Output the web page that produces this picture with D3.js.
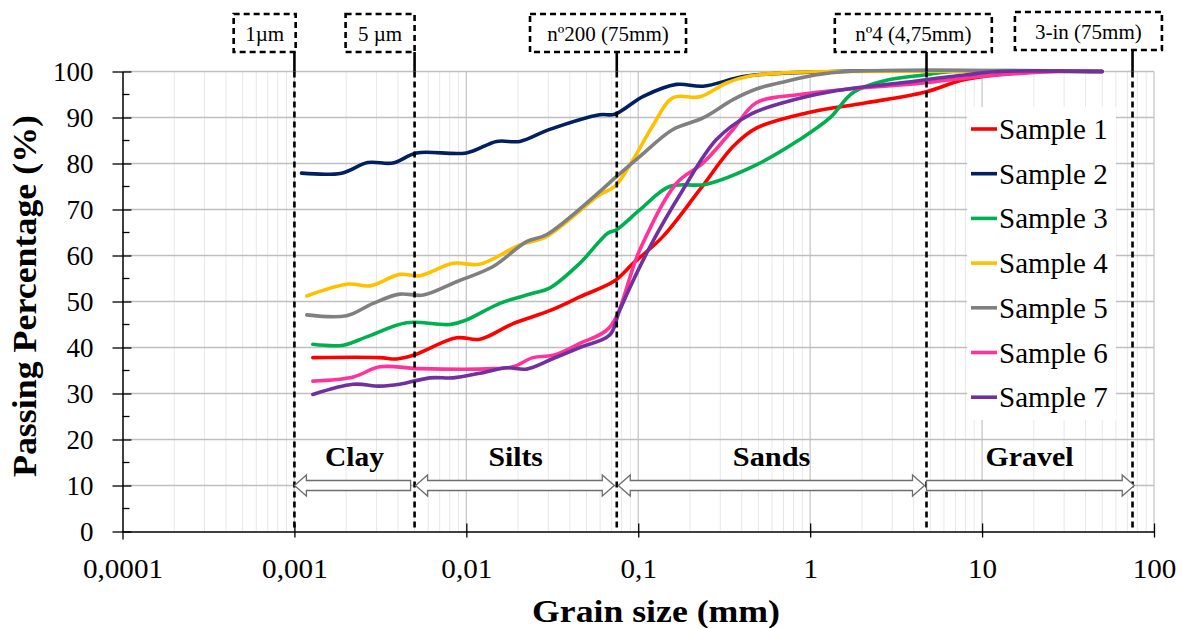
<!DOCTYPE html>
<html>
<head>
<meta charset="utf-8">
<script src="https://cdn.jsdelivr.net/npm/d3@7"></script>
<style>
  html, body { margin: 0; padding: 0; background: #ffffff; }
  svg { display: block; }
  svg text { font-family: "Liberation Serif", "Times New Roman", serif !important; fill: #000; }
</style>
</head>
<body>
<svg id="chart" width="1182" height="628"></svg>
<script>
// ---- data: grain size (mm) vs passing percentage (%) ----
const seriesNames = ["Sample 1", "Sample 2", "Sample 3", "Sample 4", "Sample 5", "Sample 6", "Sample 7"];
const seriesColors = ["#ff0000", "#002060", "#00b050", "#ffc000", "#808080", "#ff3399", "#7030a0"];

const sample1 = [[0.00128,37.8],[0.00314,37.8],[0.00393,37.5],[0.00491,38.3],[0.00877,42.1],[0.01197,41.8],
  [0.0187,45.2],[0.0305,48.0],[0.0457,51.0],[0.0729,54.5],[0.0933,58.3],[0.139,64.1],[0.228,74.3],[0.356,83.7],
  [0.486,87.7],[0.951,91.0],[2.12,93.2],[4.63,95.5],[8.09,98.3],[22.5,100],[50,100]];
const sample2 = [[0.0011,77.9],[0.00188,77.9],[0.00267,80.2],[0.00374,80.1],[0.00513,82.3],[0.01002,82.3],
  [0.015,84.8],[0.0205,84.8],[0.03,87.3],[0.0597,90.6],[0.0729,90.7],[0.107,94.6],[0.167,97.2],[0.238,96.8],
  [0.426,99.0],[1.36,100],[50,100]];
const sample3 = [[0.00128,40.7],[0.00192,40.5],[0.00263,42.3],[0.00449,45.4],[0.00802,45.0],[0.01002,46.0],
  [0.01567,49.6],[0.0244,51.8],[0.0305,52.9],[0.0457,58.3],[0.0667,64.9],[0.0746,65.6],[0.102,69.9],[0.152,75.0],
  [0.249,75.5],[0.486,79.7],[0.869,85.2],[1.30,89.9],[1.77,95.4],[2.65,97.9],[4.74,99.3],[6.73,100],[50,100]];
const sample4 = [[0.00118,51.2],[0.00206,53.8],[0.00275,53.4],[0.0041,55.9],[0.00537,55.6],[0.00838,58.3],
  [0.01197,58.1],[0.0205,62.3],[0.0292,64.1],[0.0597,73.2],[0.0729,75.0],[0.0933,80.8],[0.121,88.1],[0.159,94.3],
  [0.228,94.5],[0.326,97.5],[0.445,99.0],[0.695,99.7],[1.36,100],[50,100]];
const sample5 = [[0.00118,47.1],[0.00201,46.9],[0.00287,49.6],[0.0041,51.6],[0.00561,51.4],[0.00877,54.3],
  [0.01432,57.6],[0.0224,63.0],[0.0292,64.5],[0.0597,73.9],[0.0729,76.8],[0.102,81.5],[0.159,87.4],[0.238,89.9],
  [0.356,93.9],[0.486,96.2],[0.728,97.9],[1.087,99.3],[1.61,100],[50,100]];
const sample6 = [[0.00128,32.7],[0.0022,33.6],[0.00314,35.8],[0.00537,35.4],[0.01432,35.4],[0.0187,35.8],
  [0.0244,37.8],[0.032,38.3],[0.0457,40.9],[0.0682,44.4],[0.102,61.2],[0.167,75.7],[0.238,80.1],[0.356,87.4],
  [0.486,93.2],[0.869,95.0],[1.70,96.2],[4.53,97.5],[10.1,99.0],[28.2,100],[50,100]];
const sample7 = [[0.00128,29.8],[0.0022,32.0],[0.00314,31.6],[0.0041,32.0],[0.00614,33.4],[0.00838,33.4],
  [0.01197,34.4],[0.01714,35.6],[0.0224,35.3],[0.032,37.6],[0.0457,40.0],[0.0682,42.7],[0.078,48.1],[0.117,61.9],
  [0.182,74.3],[0.285,85.2],[0.445,90.6],[0.695,93.2],[1.36,95.7],[3.31,97.5],[8.09,99.3],[12.5,100],[50,100]];
const samples = [sample1, sample2, sample3, sample4, sample5, sample6, sample7];

const xTickValues = [0.0001, 0.001, 0.01, 0.1, 1, 10, 100];
const xTickLabels = ["0,0001", "0,001", "0,01", "0,1", "1", "10", "100"];
const yTickValues = [0, 10, 20, 30, 40, 50, 60, 70, 80, 90, 100];

// size limits (mm) marked by dashed verticals, with their captions
const limitSizes = [0.001, 0.005, 0.075, 4.75, 75];
const limitLabels = ["1µm", "5 µm", "nº200 (75mm)", "nº4 (4,75mm)", "3-in (75mm)"];

// soil classes between consecutive limits
const soilClasses = ["Clay", "Silts", "Sands", "Gravel"];

// ---- layout ----
const FONT = '"Liberation Serif","Times New Roman",serif';
const svg = d3.select("#chart");
const plot = { left: 122.5, right: 1154, top: 71.5, bottom: 531.5 };

const x = d3.scaleLog().domain([0.0001, 100]).range([plot.left, plot.right]);
const y = d3.scaleLinear().domain([0, 100]).range([plot.bottom, plot.top]);

// gridlines
const grid = svg.append("g");
const minorX = [];
for (let k = -4; k <= 1; k++) for (let m = 2; m <= 9; m++) minorX.push(m * Math.pow(10, k));
grid.selectAll(".minx").data(minorX).join("line")
  .attr("x1", d => x(d)).attr("x2", d => x(d))
  .attr("y1", plot.top).attr("y2", plot.bottom)
  .attr("stroke", "#e8e8e8").attr("stroke-width", 1);
grid.selectAll(".majx").data(xTickValues.slice(1)).join("line")
  .attr("x1", d => x(d)).attr("x2", d => x(d))
  .attr("y1", plot.top).attr("y2", plot.bottom)
  .attr("stroke", "#c9c9c9").attr("stroke-width", 1.3);
grid.selectAll(".majy").data(yTickValues.slice(1)).join("line")
  .attr("x1", plot.left).attr("x2", plot.right)
  .attr("y1", d => y(d)).attr("y2", d => y(d))
  .attr("stroke", "#bfbfbf").attr("stroke-width", 1.4);

// legend background hides the grid behind it
const legend = { left: 967, right: 1116, top: 107, bottom: 420, rowY: 129, rowStep: 44.7 };
svg.append("rect")
  .attr("x", legend.left).attr("y", legend.top)
  .attr("width", legend.right - legend.left).attr("height", legend.bottom - legend.top)
  .attr("fill", "#ffffff");

// axes
const xAxis = d3.axisBottom(x).tickValues(xTickValues).tickFormat((d, i) => xTickLabels[i])
  .tickSizeInner(0).tickSizeOuter(0).tickPadding(0);
const gx = svg.append("g").attr("transform", `translate(0,${plot.bottom})`).call(xAxis)
  .attr("font-family", FONT);
gx.select(".domain").attr("stroke", "#000").attr("stroke-width", 1.5);
gx.selectAll(".tick text").attr("font-size", 27).attr("y", 46).attr("dy", 0)
  .attr("font-family", FONT)
  .each(function () {
    // the category labels sit slightly wider than the font's natural advance
    const w = this.getComputedTextLength();
    d3.select(this).attr("textLength", w * 1.08).attr("lengthAdjust", "spacingAndGlyphs");
  });
gx.selectAll(".tick").filter(d => d > 0.0001).append("line")
  .attr("y1", -8).attr("y2", 6).attr("stroke", "#000").attr("stroke-width", 1.3);
gx.selectAll(".tick").filter(d => d === 0.0001).append("line")
  .attr("y1", 0).attr("y2", 8).attr("stroke", "#000").attr("stroke-width", 1.3);

const yAxis = d3.axisLeft(y).tickValues(yTickValues).tickFormat(d3.format("d"))
  .tickSizeInner(0).tickSizeOuter(0).tickPadding(0);
const gy = svg.append("g").attr("transform", `translate(${plot.left},0)`).call(yAxis)
  .attr("font-family", FONT);
gy.select(".domain").attr("stroke", "#000").attr("stroke-width", 1.5);
gy.selectAll(".tick text").attr("font-size", 27).attr("x", -29).attr("dy", "0.34em")
  .attr("font-family", FONT);
gy.selectAll(".tick").append("line")
  .attr("x1", -10).attr("x2", 9).attr("stroke", "#000").attr("stroke-width", 1.3);
gy.selectAll(".minor").data(d3.range(5, 100, 10)).join("line")
  .attr("x1", 0).attr("x2", 7).attr("y1", d => y(d)).attr("y2", d => y(d))
  .attr("stroke", "#000").attr("stroke-width", 1.3);

// axis titles
svg.append("text")
  .attr("x", 656).attr("y", 622).attr("text-anchor", "middle")
  .attr("font-family", FONT).attr("font-size", 31).attr("font-weight", "bold")
  .attr("textLength", 248).attr("lengthAdjust", "spacingAndGlyphs")
  .text("Grain size (mm)");
svg.append("text")
  .attr("transform", "translate(36,296) rotate(-90)").attr("text-anchor", "middle")
  .attr("font-family", FONT).attr("font-size", 34).attr("font-weight", "bold")
  .attr("textLength", 362).attr("lengthAdjust", "spacingAndGlyphs")
  .text("Passing Percentage (%)");

// grading curves
const line = d3.line().x(d => x(d[0])).y(d => y(d[1])).curve(d3.curveCatmullRom.alpha(0.5));
svg.append("g").selectAll("path").data(samples).join("path")
  .attr("d", line)
  .attr("fill", "none")
  .attr("stroke", (d, i) => seriesColors[i])
  .attr("stroke-width", 3.6)
  .attr("stroke-linejoin", "round").attr("stroke-linecap", "round");

// dashed limit lines, solid connectors and captions in dashed boxes
const boxSpec = [
  { w: 62, f: 0.98, top: 14, h: 38, fs: 21 },
  { w: 69, f: 1.0, top: 14, h: 38, fs: 21 },
  { w: 156, f: 0.556, top: 14, h: 38, fs: 21 },
  { w: 157, f: 0.584, top: 14, h: 38, fs: 21 },
  { w: 147, f: 0.80, top: 12, h: 38, fs: 21 }
];
const lim = svg.append("g");
limitSizes.forEach((s, i) => {
  const lx = x(s), b = boxSpec[i];
  lim.append("line").attr("x1", lx).attr("x2", lx).attr("y1", b.top + b.h).attr("y2", plot.top)
    .attr("stroke", "#000").attr("stroke-width", 2.6);
  lim.append("line").attr("x1", lx).attr("x2", lx).attr("y1", plot.top).attr("y2", plot.bottom)
    .attr("stroke", "#000").attr("stroke-width", 2.6).attr("stroke-dasharray", "6,4");
  const bx = lx - b.w * b.f;
  lim.append("rect").attr("x", bx).attr("y", b.top).attr("width", b.w).attr("height", b.h)
    .attr("fill", "#fff").attr("stroke", "#000").attr("stroke-width", 2.6).attr("stroke-dasharray", "6,4");
  lim.append("text").attr("x", bx + b.w / 2).attr("y", b.top + 27).attr("text-anchor", "middle")
    .attr("font-family", FONT).attr("font-size", b.fs).text(limitLabels[i]);
});

// soil class arrows on the 10 % line
const arrowSpec = [
  { lHead: true, rHead: false, lGap: 0, rGap: 4, tl: 59 },
  { lHead: true, rHead: true, lGap: 1, rGap: 2.5, tl: 54.5 },
  { lHead: true, rHead: true, lGap: 1.5, rGap: 2, tl: 77.6 },
  { lHead: false, rHead: true, lGap: 0, rGap: -1.7, tl: 88 }
];
function arrowPath(xa, xb, cy, lHead, rHead) {
  const sh = 5, hh = 10.5, hl = 12;
  const p = [];
  if (lHead) p.push([xa, cy], [xa + hl, cy - hh], [xa + hl, cy - sh]);
  else p.push([xa, cy + sh], [xa, cy - sh]);
  if (rHead) p.push([xb - hl, cy - sh], [xb - hl, cy - hh], [xb, cy], [xb - hl, cy + hh], [xb - hl, cy + sh]);
  else p.push([xb, cy - sh], [xb, cy + sh]);
  if (lHead) p.push([xa + hl, cy + sh], [xa + hl, cy + hh]);
  return "M" + p.map(q => q.join(",")).join("L") + "Z";
}
const arr = svg.append("g");
soilClasses.forEach((name, i) => {
  const a = arrowSpec[i];
  const x1 = x(limitSizes[i]), x2 = x(limitSizes[i + 1]);
  arr.append("path").attr("d", arrowPath(x1 + a.lGap, x2 - a.rGap, y(10), a.lHead, a.rHead))
    .attr("fill", "#fff").attr("stroke", "#6e6e6e").attr("stroke-width", 1.3).attr("stroke-linejoin", "miter");
  arr.append("text")
    .attr("x", (x1 + x2) / 2).attr("y", y(10) - 20).attr("text-anchor", "middle")
    .attr("font-family", FONT).attr("font-size", 27).attr("font-weight", "bold")
    .attr("textLength", a.tl).attr("lengthAdjust", "spacingAndGlyphs")
    .text(name);
});

// legend entries
const lg = svg.append("g");
seriesNames.forEach((name, i) => {
  const ry = legend.rowY + i * legend.rowStep;
  lg.append("line").attr("x1", 971).attr("x2", 997).attr("y1", ry).attr("y2", ry)
    .attr("stroke", seriesColors[i]).attr("stroke-width", 3.6);
  lg.append("text").attr("x", 999).attr("y", ry + 10)
    .attr("font-family", FONT).attr("font-size", 29).text(name);
});
</script>
</body>
</html>
